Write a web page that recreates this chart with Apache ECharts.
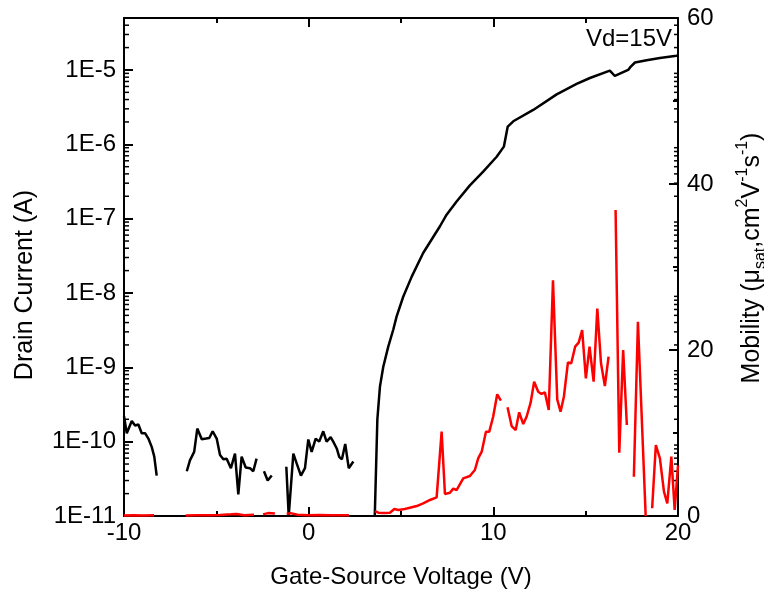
<!DOCTYPE html>
<html>
<head>
<meta charset="utf-8">
<script src="https://cdn.jsdelivr.net/npm/echarts@6/dist/echarts.min.js"></script>
<style>
  html, body { margin: 0; padding: 0; background: #fff; }
  #chart { width: 764px; height: 602px; }
</style>
</head>
<body>
<div id="chart"></div>
<script>
// Transfer curve at Vd = 15 V: drain current (log, left) and saturation mobility (right)
// '-' marks a break in the measured trace.

const gateVoltageId = [
  -10, -9.85, -9.58, -9.4, -9.22, -9.04, -8.86, -8.68, -8.5, -8.36, -8.23, -7.4,
  -6.6, -6.43, -6.2, -6.03, -5.79, -5.56, -5.38, -5.2, -4.98, -4.8, -4.62, -4.44,
  -4.21, -3.99, -3.81, -3.63, -3.41, -3.18, -3.0, -2.82, -2.6,
  -2.42, -2.22, -2.0, -1.6,
  -1.21, -1.08, -1.0, -0.83, -0.65, -0.42, -0.2, -0.02, 0.16, 0.38, 0.57, 0.79,
  0.97, 1.19, 1.33, 1.52, 1.66, 1.8, 1.98, 2.17, 2.42, 3.0,
  3.58, 3.72, 3.86, 4.04, 4.31, 4.58, 4.76, 5.12, 5.58, 6.2, 7.11, 7.47, 8.01,
  8.73, 9.45, 10.18, 10.57, 10.78, 11.08, 12.16, 13.43, 14.51, 15.23, 16.31,
  16.58, 17.3, 17.43, 17.67, 18.3, 19.02, 19.92, 20
];
const drainCurrent = [
  2.2e-10, 1.3e-10, 1.9e-10, 1.65e-10, 1.7e-10, 1.3e-10, 1.3e-10, 1.1e-10, 8.5e-11, 6.3e-11, 3.5e-11, '-',
  4e-11, 5.6e-11, 7.3e-11, 1.5e-10, 1.08e-10, 1.1e-10, 1.12e-10, 1.38e-10, 1.1e-10, 6.6e-11, 5.8e-11, 5.9e-11,
  4.4e-11, 6.9e-11, 1.95e-11, 6.3e-11, 4.5e-11, 4.4e-11, 4e-11, 5.9e-11, '-',
  4e-11, 3e-11, 3.5e-11, '-',
  4.6e-11, 1e-11, 1e-11, 6.9e-11, 5.1e-11, 3.5e-11, 4.4e-11, 1.07e-10, 7.3e-11, 1.1e-10, 1.0e-10, 1.38e-10,
  1.0e-10, 1.15e-10, 1.0e-10, 8.1e-11, 6.2e-11, 5.8e-11, 9.3e-11, 4.4e-11, 5.4e-11, '-',
  1e-11, 2.0e-10, 5.5e-10, 1.02e-9, 1.9e-9, 3.2e-9, 4.8e-9, 8.9e-9, 1.66e-8, 3.45e-8, 7.9e-8, 1.13e-7, 1.7e-7,
  2.8e-7, 4.3e-7, 6.8e-7, 9.3e-7, 1.73e-6, 2.04e-6, 2.9e-6, 4.7e-6, 6.5e-6, 7.8e-6, 9.8e-6,
  8.3e-6, 1.0e-5, 1.1e-5, 1.26e-5, 1.35e-5, 1.45e-5, 1.55e-5, 1.57e-5
];

const gateVoltageMu = [
  -10, -9.5, -9.0, -8.37, -7.5,
  -6.66, -6.0, -5.4, -4.8, -4.2, -3.9, -3.5, -2.96, -2.7,
  -2.47, -2.2, -1.83, -1.5,
  -1.19, -1.0, -0.6, 0, 0.6, 1.2, 1.8, 2.18, 3.0,
  3.59, 3.77, 4.1, 4.4, 4.64, 4.85, 5.12, 5.48, 5.85, 6.2, 6.57, 6.93, 7.02, 7.2,
  7.38, 7.65, 7.83, 8.01, 8.37, 8.73, 9.0, 9.18, 9.37, 9.6, 9.78, 9.99, 10.21, 10.41, 10.6,
  10.77, 10.99, 11.21, 11.4, 11.62, 11.8, 12.02, 12.21, 12.43, 12.61, 12.79, 13.0, 13.23,
  13.46, 13.64, 13.82, 14.04, 14.22, 14.43, 14.62, 14.81, 15.01, 15.21, 15.43, 15.63,
  15.83, 16.04, 16.24, 16.4,
  16.62, 16.82, 17.03, 17.23, 17.4,
  17.61, 17.83, 18.25, 18.4,
  18.6, 18.8, 19.02, 19.24, 19.42, 19.64, 19.82, 20
];
const mobility = [
  0.05, 0.08, 0.05, 0.1, '-',
  0.05, 0.1, 0.08, 0.12, 0.2, 0.25, 0.1, 0.15, '-',
  0.2, 0.35, 0.3, '-',
  0.25, 0.35, 0.15, 0.1, 0.12, 0.1, 0.08, 0.1, '-',
  0.6, 0.4, 0.35, 0.4, 0.84, 0.72, 0.8, 1.0, 1.2, 1.53, 1.93, 2.25, 2.33, 10.16,
  2.65, 2.8, 3.3, 3.13, 4.54, 4.82, 5.54, 6.95, 7.75, 10.16, 10.16, 11.96, 14.66, 13.9, '-',
  13.1, 10.84, 10.36, 12.49, 11.08, 11.96, 13.65, 16.18, 14.98, 14.7, 14.9, 12.77, 28.4,
  14.06, 12.57, 14.37, 18.5, 18.4, 20.4, 20.88, 22.4, 16.59, 20.4, 16.18, 25.0,
  18.4, 15.66, 19.2, '-',
  36.87, 7.63, 20.0, 10.96, '-',
  4.74, 23.4, 0, '-',
  0.93, 8.55, 6.95, 2.93, 1.53, 7.15, 0.72, 6.1
];

const xTicks = { min: -10, max: 20, interval: 10 };
const currentRange = { min: 1e-11, max: 5e-5 };
const mobilityTicks = { min: 0, max: 60, interval: 20 };

// minor decade ticks (2..9 x 10^n) for the logarithmic current axis
const logMinorTicks = [];
for (let e = -11; e <= -5; e++) {
  for (let k = 2; k <= 9; k++) {
    const v = k * Math.pow(10, e);
    if (v < currentRange.max) logMinorTicks.push([xTicks.min, v]);
  }
}

const FONT = '"Liberation Sans", Arial, Helvetica, sans-serif';
const pair = (xs, ys) => xs.map((x, i) => [x, ys[i]]);

const chart = echarts.init(document.getElementById('chart'), null, { renderer: 'canvas' });

const frameLine = { show: true, onZero: false, lineStyle: { color: '#000', width: 2 } };

chart.setOption({
  animation: false,
  backgroundColor: '#fff',
  grid: { left: 124, right: 86, top: 18, bottom: 86 },
  xAxis: [
    {
      type: 'value', position: 'bottom',
      min: xTicks.min, max: xTicks.max, interval: xTicks.interval,
      axisLine: frameLine,
      axisTick: { inside: true, length: 9, lineStyle: { color: '#000', width: 2 } },
      minorTick: { show: true, splitNumber: 2, length: 5, lineStyle: { color: '#000', width: 2 } },
      axisLabel: { color: '#000', fontFamily: FONT, fontSize: 24, margin: 5 },
      splitLine: { show: false }
    },
    {
      type: 'value', position: 'top',
      min: xTicks.min, max: xTicks.max, interval: xTicks.interval,
      axisLine: frameLine,
      axisTick: { inside: true, length: 9, lineStyle: { color: '#000', width: 2 } },
      minorTick: { show: true, splitNumber: 2, length: 5, lineStyle: { color: '#000', width: 2 } },
      axisLabel: { show: false },
      splitLine: { show: false }
    }
  ],
  yAxis: [
    {
      type: 'log', logBase: 10, position: 'left',
      min: currentRange.min, max: currentRange.max,
      axisLine: frameLine,
      axisTick: { inside: true, length: 9, lineStyle: { color: '#000', width: 2 } },
      axisLabel: {
        color: '#000', fontFamily: FONT, fontSize: 24, margin: 8,
        showMaxLabel: false,
        formatter: v => '1E' + Math.round(Math.log10(v))
      },
      splitLine: { show: false }
    },
    {
      type: 'value', position: 'right',
      min: mobilityTicks.min, max: mobilityTicks.max, interval: mobilityTicks.interval,
      axisLine: frameLine,
      axisTick: { inside: true, length: 9, lineStyle: { color: '#000', width: 2 } },
      minorTick: { show: true, splitNumber: 2, length: 5, lineStyle: { color: '#000', width: 2 } },
      axisLabel: { color: '#000', fontFamily: FONT, fontSize: 24, margin: 9 },
      splitLine: { show: false }
    }
  ],
  series: [
    {
      name: 'Drain Current',
      type: 'line', xAxisIndex: 0, yAxisIndex: 0,
      data: pair(gateVoltageId, drainCurrent),
      showSymbol: false, connectNulls: false,
      lineStyle: { color: '#000', width: 2.5 },
      itemStyle: { color: '#000' },
      z: 3
    },
    {
      name: 'Mobility',
      type: 'line', xAxisIndex: 0, yAxisIndex: 1,
      data: pair(gateVoltageMu, mobility),
      showSymbol: false, connectNulls: false,
      lineStyle: { color: '#ff0000', width: 2.5 },
      itemStyle: { color: '#ff0000' },
      z: 4
    },
    {
      name: 'log minor ticks',
      type: 'custom', xAxisIndex: 0, yAxisIndex: 0,
      data: logMinorTicks,
      silent: true, z: 1,
      renderItem: (params, api) => {
        const left = api.coord([xTicks.min, api.value(1)]);
        const right = api.coord([xTicks.max, api.value(1)]);
        const style = { stroke: '#000', lineWidth: 1.5 };
        return {
          type: 'group',
          children: [
            { type: 'line', shape: { x1: left[0], y1: left[1], x2: left[0] + 5, y2: left[1] }, style },
            { type: 'line', shape: { x1: right[0], y1: right[1], x2: right[0] - 4, y2: right[1] }, style }
          ]
        };
      }
    }
  ],
  graphic: [
    {
      type: 'text', x: 401, y: 577,
      style: { text: 'Gate-Source Voltage (V)', font: '24px ' + FONT, fill: '#000', align: 'center', verticalAlign: 'middle' }
    },
    {
      type: 'text', x: 25, y: 285, rotation: Math.PI / 2,
      style: { text: 'Drain Current (A)', font: '25px ' + FONT, fill: '#000', align: 'center', verticalAlign: 'middle' }
    },
    {
      type: 'text', x: 752, y: 258, rotation: Math.PI / 2,
      style: {
        text: '{m|Mobility (μ}{sub|sat}{m|,cm}{sup|2}{m|V}{sup|-1}{m|s}{sup|-1}{m|)}',
        fill: '#000', align: 'center', verticalAlign: 'middle',
        rich: {
          m: { fontFamily: FONT, fontSize: 25, lineHeight: 34, verticalAlign: 'middle', fill: '#000' },
          sup: { fontFamily: FONT, fontSize: 16, lineHeight: 16, verticalAlign: 'top', fill: '#000' },
          sub: { fontFamily: FONT, fontSize: 16, lineHeight: 16, verticalAlign: 'bottom', fill: '#000' }
        }
      }
    },
    {
      type: 'text', x: 672, y: 39,
      style: { text: 'Vd=15V', font: '24px ' + FONT, fill: '#000', align: 'right', verticalAlign: 'middle' }
    }
  ]
});
</script>
</body>
</html>
